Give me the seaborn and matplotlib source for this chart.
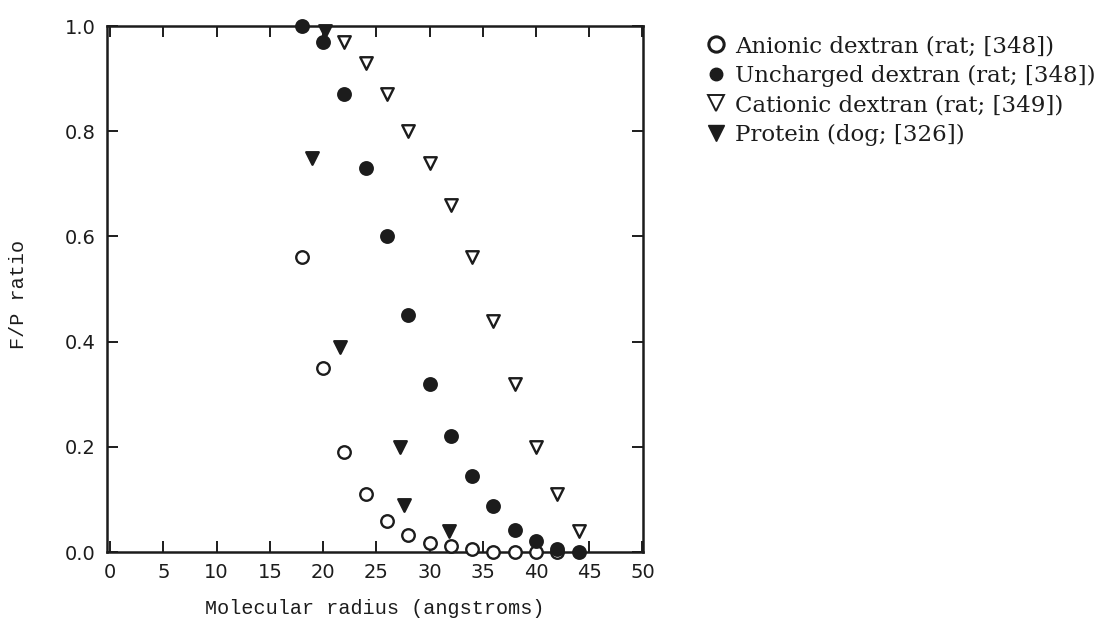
import matplotlib
matplotlib.use('Agg')
import numpy
import pandas
import seaborn
import matplotlib.pyplot as pyplt
from matplotlib.lines import Line2D

# data
anionic_x = [18, 20, 22, 24, 26, 28, 30, 32, 34, 36, 38, 40, 42]
anionic_y = [0.56, 0.35, 0.19, 0.11, 0.059, 0.032, 0.018, 0.012, 0.005, 0.0, 0.0, 0.0, 0.0]
uncharged_x = [18, 20, 22, 24, 26, 28, 30, 32, 34, 36, 38, 40, 42, 44]
uncharged_y = [1.0, 0.97, 0.87, 0.73, 0.60, 0.45, 0.32, 0.22, 0.145, 0.087, 0.042, 0.02, 0.006, 0.0]
cationic_x = [22, 24, 26, 28, 30, 32, 34, 36, 38, 40, 42, 44]
cationic_y = [0.97, 0.93, 0.87, 0.80, 0.74, 0.66, 0.56, 0.44, 0.32, 0.20, 0.11, 0.04]
protein_x = [19.0, 20.2, 21.6, 27.2, 27.6, 31.8]
protein_y = [0.75, 0.99, 0.39, 0.20, 0.09, 0.04]

labels = [
    'Anionic dextran (rat; [348])',
    'Uncharged dextran (rat; [348])',
    'Cationic dextran (rat; [349])',
    'Protein (dog; [326])',
]
x_ticks = [0, 5, 10, 15, 20, 25, 30, 35, 40, 45, 50]
y_ticks = [0.0, 0.2, 0.4, 0.6, 0.8, 1.0]

INK = '#1c1c1c'

series = [
    (anionic_x, anionic_y, 'o', 'white', 9.0),
    (uncharged_x, uncharged_y, 'o', INK, 9.0),
    (cationic_x, cationic_y, 'v', 'white', 9.0),
    (protein_x, protein_y, 'v', INK, 9.0),
]

seaborn.set_theme(style='white')
pyplt.rcParams['font.family'] = ['DejaVu Sans']
pyplt.rcParams['text.color'] = INK
pyplt.rcParams['axes.labelcolor'] = INK
pyplt.rcParams['xtick.color'] = INK
pyplt.rcParams['ytick.color'] = INK

fig = pyplt.figure(figsize=(11.17, 6.27), dpi=100)
ax = fig.add_axes([107 / 1117, 1 - 552 / 627, (643 - 107) / 1117, (552 - 26) / 627])

for (xs, ys, marker, face, size), label in zip(series, labels):
    data = pandas.DataFrame({'radius': xs, 'ratio': ys})
    seaborn.scatterplot(
        x='radius',
        y='ratio',
        data=data,
        marker=marker,
        s=size ** 2,
        facecolor=face,
        edgecolor=INK,
        linewidth=1.7,
        ax=ax,
        clip_on=False,
        zorder=3,
        legend=False,
    )

ax.set_xlim(-0.3, 50.05)
ax.set_ylim(0, 1)
ax.set_xticks(x_ticks)
ax.set_yticks(y_ticks)
ax.set_xticklabels([str(t) for t in x_ticks])
ax.set_yticklabels([f'{t:.1f}' for t in y_ticks])
ax.tick_params(
    direction='in', length=8, width=1.4,
    top=True, right=True, bottom=True, left=True,
    labelsize=14, pad=8,
)
for spine in ax.spines.values():
    spine.set_color(INK)
    spine.set_linewidth(1.8)

ax.set_xlabel('Molecular radius (angstroms)', family='Liberation Mono',
              fontsize=14.5, labelpad=12)
ax.set_ylabel('F/P ratio', family='Liberation Mono', fontsize=14.5)
ax.yaxis.set_label_coords(-0.147, 0.49)

handles = [
    Line2D([], [], linestyle='none', marker='o', markersize=11,
           markerfacecolor='white', markeredgecolor=INK, markeredgewidth=2.2),
    Line2D([], [], linestyle='none', marker='o', markersize=9,
           markerfacecolor=INK, markeredgecolor=INK),
    Line2D([], [], linestyle='none', marker='v', markersize=11,
           markerfacecolor='white', markeredgecolor=INK, markeredgewidth=1.4),
    Line2D([], [], linestyle='none', marker='v', markersize=11,
           markerfacecolor=INK, markeredgecolor=INK),
]
fig.legend(
    handles, labels,
    loc='upper left',
    bbox_to_anchor=(698 / 1117, 1 - 26 / 627),
    frameon=False,
    handlelength=0.8,
    handletextpad=0.4,
    labelspacing=0.33,
    borderaxespad=0,
    prop={'family': 'DejaVu Serif', 'size': 16.5},
)

fig.savefig('out.png', dpi=100)
